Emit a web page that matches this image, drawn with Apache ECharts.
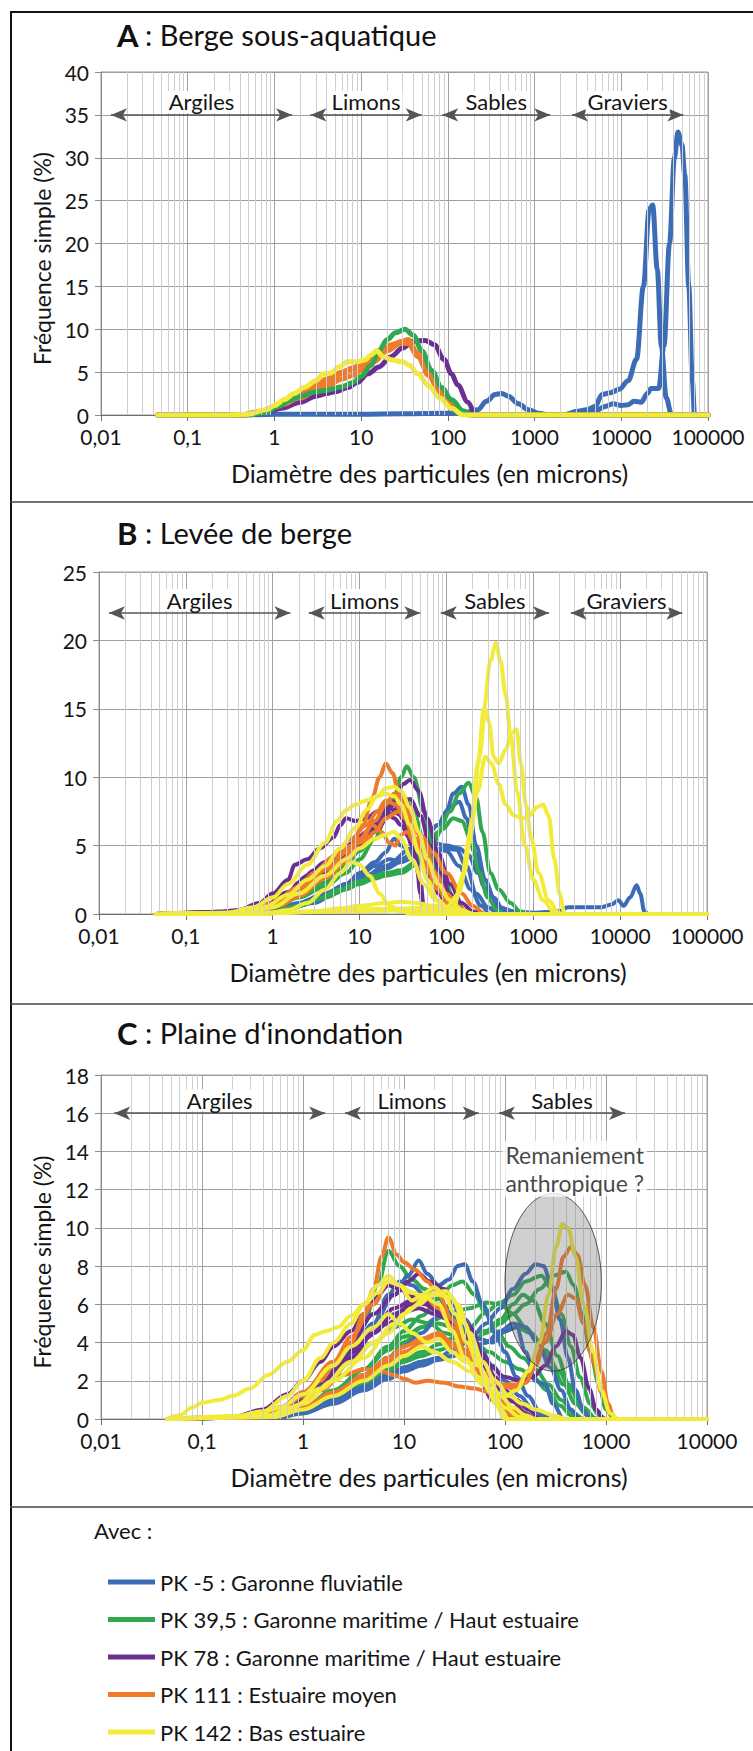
<!DOCTYPE html>
<html><head><meta charset="utf-8">
<script src="https://cdn.jsdelivr.net/npm/echarts@6/dist/echarts.min.js"></script>
<style>html,body{margin:0;padding:0;background:#fff}#c{width:753px;height:1751px}</style>
</head><body><div id="c"></div>
<script>
// ---------- DATA (diameter in microns, frequency in %) ----------
const seriesNames = ['PK -5 : Garonne fluviatile','PK 39,5 : Garonne maritime / Haut estuaire','PK 78 : Garonne maritime / Haut estuaire','PK 111 : Estuaire moyen','PK 142 : Bas estuaire'];
const colors = ['#3b6cb5','#2fa84f','#6b2f93','#ef7b2a','#f2eb3a'];
const zoneNames = ['Argiles','Limons','Sables','Graviers'];
const zoneBoundsAB = [[0.013,1.6],[2.6,50],[86,1520],[2700,52000]];
const zoneBoundsC = [[0.0135,1.66],[2.6,55],[87,1545]];
const xTicksAB = ['0,01','0,1','1','10','100','1000','10000','100000'];
const xTicksC = ['0,01','0,1','1','10','100','1000','10000'];

// Panel A
const A_PK5 = [
 [[0.6,0],[1,0.1],[3,0.1],[10,0.1],[30,0.15],[100,0.2],[160,0.3],[220,0.6],[280,1.6],[350,2.4],[420,2.5],[500,2.2],[650,1.3],[850,0.6],[1100,0.2],[1500,0],[2200,0],[3000,0.4],[4000,0.6],[5000,1.0],[6000,2.4],[7500,2.6],[9500,3.0],[12000,4.0],[15000,6.5],[18000,15],[21000,24],[23000,24.5],[26000,17],[29000,8],[33000,2],[38000,0],[100000,0]],
 [[1000,0],[2000,0],[3000,0.2],[5000,0.5],[6500,1.0],[8000,1.3],[10000,1.1],[12000,1.2],[14000,1.6],[17000,1.5],[20000,2.5],[22000,3.1],[27000,3.1],[31000,8],[36000,20],[41000,30],[45000,33],[50000,31.5],[54000,28],[60000,15],[66000,4],[70000,0],[100000,0]]
];
const A_PK395 = [
 [[0.045,0],[0.5,0],[0.8,0.3],[1.1,1.0],[1.5,1.7],[2,2.2],[3,2.7],[4,2.9],[6,3.3],[8,3.8],[10,4.5],[13,5.8],[16,7.5],[20,8.8],[25,9.6],[32,10],[40,9.3],[50,7.5],[65,5.2],[85,3.2],[110,1.8],[150,0.5],[190,0],[100000,0]]
];
const A_PK78 = [
 [[0.045,0],[0.5,0],[0.8,0.3],[1.2,0.8],[2,1.5],[3,2.2],[4,2.5],[5,2.7],[7,3.2],[9,3.8],[12,4.8],[16,5.6],[22,6.8],[30,7.8],[40,8.6],[55,8.7],[70,8.2],[90,6.5],[110,4.8],[130,3.5],[170,1.5],[210,0],[100000,0]]
];
const A_PK111 = [
 [[0.045,0],[0.4,0],[0.7,0.4],[1,1.0],[1.5,1.8],[2,2.4],[3,3.2],[4,3.9],[6,4.8],[8,5.3],[10,5.8],[13,6.5],[17,7.3],[22,8.2],[30,8.6],[35,8.8],[45,7],[60,5],[80,3],[110,1.3],[150,0.2],[180,0],[100000,0]],
 [[0.045,0],[0.5,0],[0.8,0.5],[1.2,1.2],[2,2],[3,2.8],[4,3.4],[6,4.2],[8,4.6],[10,5.2],[14,6.2],[20,7.5],[28,8.3],[35,8.5],[45,7.2],[60,5],[80,3],[110,1.2],[150,0.2],[180,0],[100000,0]],
 [[0.045,0],[0.45,0],[0.75,0.5],[1.1,1.1],[2,2.6],[3,3.5],[4,4.2],[6,5],[8,5.5],[10,6],[14,6.8],[20,7.8],[28,8.4],[35,8.3],[45,6.8],[60,4.6],[80,2.6],[110,1],[150,0.1],[180,0],[100000,0]]
];
const A_PK142 = [
 [[0.045,0],[0.3,0],[0.5,0.1],[0.8,0.6],[1,1.1],[1.3,1.8],[1.7,2.5],[2.2,3.2],[3,4],[3.7,4.8],[4.5,4.9],[5.5,5.6],[7,6.2],[9,6.2],[11,6.4],[13,7.0],[15,7.5],[18,6.8],[23,6.4],[30,6.2],[36,5.8],[45,4.8],[60,3.4],[80,2],[110,0.8],[150,0],[100000,0]]
];

// Panel B
const B_PK5 = [
 [[0.045,0],[0.5,0],[1,0.3],[2,0.8],[4,1.5],[7,2.2],[10,2.6],[15,3],[20,3.3],[30,3.8],[45,4.5],[60,5.8],[80,6.5],[100,7.5],[120,8.8],[150,9.3],[180,8],[220,5],[280,2.5],[350,1.2],[450,0.3],[600,0],[100000,0]],
 [[0.045,0],[1,0.2],[5,1.5],[10,2.5],[20,3.5],[40,4.8],[70,5.2],[100,5],[140,4.8],[180,4.3],[230,3],[300,1.5],[400,0.5],[600,0.2],[1000,0.1],[2000,0.2],[2500,0.5],[4000,0.5],[6000,0.5],[8000,0.7],[9500,1.0],[11000,0.6],[13000,1.2],[15500,2.1],[17000,1.5],[19000,0.2],[21000,0],[100000,0]],
 [[0.045,0],[0.6,0],[1,0.2],[2,0.6],[4,1.3],[7,2.2],[10,3],[15,3.8],[20,4.5],[25,5.5],[30,5],[40,4.5],[60,4.6],[90,4.8],[130,4.7],[170,3.5],[220,1.5],[300,0.5],[400,0],[100000,0]],
 [[0.045,0],[0.7,0],[1.5,0.4],[3,1],[6,1.8],[10,2.5],[20,3.5],[30,4],[50,5],[80,6.5],[110,7.8],[140,8.2],[170,7],[210,4.5],[270,2],[350,0.8],[450,0.2],[550,0],[100000,0]],
 [[0.045,0],[1,0.1],[3,0.8],[6,1.8],[10,2.8],[15,3.5],[22,4],[30,3.8],[45,4.2],[70,4.8],[100,4.6],[140,3.5],[190,1.8],[250,0.6],[320,0],[100000,0]]
];
const B_PK395 = [
 [[0.045,0],[0.5,0],[1,0.5],[2,1.2],[4,2],[7,3],[10,4],[15,5.5],[20,7],[25,8.5],[30,10],[35,10.8],[42,10],[55,7.5],[70,5],[90,3],[120,1.2],[160,0.3],[200,0],[100000,0]],
 [[0.045,0],[0.8,0],[1.5,0.3],[3,1],[6,1.8],[10,2.4],[15,2.8],[20,3],[30,3.2],[45,3.8],[60,4.8],[80,6],[110,7.5],[140,8.8],[180,9.6],[220,8.5],[260,6],[320,3],[400,1.8],[550,0.8],[700,0.2],[900,0],[100000,0]],
 [[0.045,0],[1,0.2],[2,0.6],[4,1.2],[7,1.8],[10,2.2],[15,2.6],[20,2.8],[30,3],[45,3.6],[65,4.8],[90,6.2],[120,7],[150,6.8],[190,5.5],[240,3],[300,1.2],[380,0.3],[450,0],[100000,0]],
 [[0.045,0],[0.6,0],[1.2,0.6],[2,1.3],[4,2.3],[7,3.6],[10,4.6],[15,6],[20,7.5],[25,8.4],[32,8.6],[40,7.8],[55,5.5],[75,3.3],[100,1.6],[140,0.4],[180,0],[100000,0]]
];
const B_PK78 = [
 [[0.045,0],[0.3,0.05],[0.5,0.2],[1,0.8],[1.5,1.5],[2,2.3],[3,3.2],[5,4],[8,5],[12,6],[18,7],[25,8.2],[32,9.5],[38,9.8],[48,9],[60,7],[80,4.5],[110,2.2],[150,0.8],[200,0.2],[260,0],[100000,0]],
 [[0.045,0],[0.2,0.05],[0.4,0.3],[0.7,0.8],[1,1.5],[1.5,2.5],[1.8,3.6],[2.5,4],[3.5,4.8],[5,5.6],[6,6.5],[7,7],[9,6.8],[12,7],[16,7.5],[20,7.8],[26,8],[32,7],[40,5],[50,2.5],[55,0.5],[60,0],[100000,0]],
 [[0.045,0],[0.4,0.1],[0.8,0.6],[1.5,1.6],[2.5,2.8],[4,3.8],[6,4.6],[9,5.3],[13,6],[18,7],[22,7.8],[28,7.3],[35,6.5],[45,5],[60,3],[80,1.5],[110,0.4],[150,0],[100000,0]],
 [[0.045,0],[0.5,0.2],[1,0.8],[2,2],[3,2.8],[5,3.6],[8,4.5],[12,5.5],[16,6.5],[20,7.5],[25,7],[30,6.5],[38,5.5],[45,4],[50,1.5],[55,0],[100000,0]],
 [[0.045,0],[0.5,0.1],[1,0.6],[2,1.6],[4,3],[6,3.8],[10,4.8],[15,6],[22,7.2],[30,8],[38,8.4],[50,7.2],[65,5],[85,3],[110,1.5],[140,0.5],[180,0],[100000,0]]
];
const B_PK111 = [
 [[0.045,0],[0.5,0.1],[1,0.7],[2,1.8],[3,2.8],[5,3.8],[8,5],[11,6.5],[14,8.5],[17,10],[20,11],[24,10.3],[28,9],[35,7.2],[45,5.5],[60,3.5],[80,2],[110,0.8],[150,0.2],[200,0],[100000,0]],
 [[0.045,0],[0.6,0.1],[1,0.5],[2,1.5],[4,2.8],[6,3.8],[10,5.2],[15,6.8],[20,8],[25,8.8],[30,8.5],[40,7],[55,5],[75,3],[100,1.5],[140,0.5],[180,0],[100000,0]],
 [[0.045,0],[0.6,0.1],[1,0.6],[2,1.7],[4,3.2],[7,4.5],[10,5.5],[14,6.5],[18,6],[22,5.2],[26,5],[30,5.8],[35,6],[45,5],[60,3.2],[80,1.8],[110,0.6],[150,0],[100000,0]],
 [[0.045,0],[0.5,0.1],[1,0.8],[2,2],[3,3],[5,4.2],[8,5.5],[12,6.5],[16,7.5],[20,8.3],[26,8],[33,7],[42,5.5],[55,4],[75,2.3],[100,1.2],[150,0.3],[200,0],[100000,0]],
 [[0.045,0],[0.7,0.1],[1.2,0.6],[2,1.3],[4,2.6],[7,3.8],[10,4.8],[15,6],[20,7],[28,7.5],[35,7],[50,5.8],[70,4.5],[100,3],[150,1.5],[200,0.6],[280,0],[100000,0]]
];
const B_PK142 = [
 [[0.045,0],[1,0.1],[10,0.2],[50,0.3],[100,0.2],[120,0.5],[150,2.5],[190,6],[230,11],[270,15],[320,18.5],[370,19.8],[420,18.5],[480,16],[550,13],[650,9],[800,5],[1000,2.5],[1300,1],[1700,0.2],[2200,0],[100000,0]],
 [[0.045,0],[1,0.1],[20,0.3],[80,0.3],[120,0.5],[160,3],[200,7],[240,11.5],[280,15],[310,14],[350,11.5],[400,11],[480,12],[560,13.2],[640,13.5],[720,11],[820,8],[950,5.5],[1150,3],[1500,1],[2000,0],[100000,0]],
 [[0.045,0],[1,0.1],[30,0.4],[100,0.5],[140,1.5],[180,5],[230,9],[280,11.5],[330,11],[400,9.5],[480,8],[600,7.2],[750,7],[900,7.2],[1100,7.8],[1300,8],[1500,7.2],[1750,4],[2000,1.5],[2300,0],[100000,0]],
 [[0.045,0],[0.4,0.1],[0.8,0.5],[1.5,1.4],[2.5,2.5],[4,3.5],[6,4.8],[9,6.3],[12,7.6],[16,8.6],[20,9.2],[25,9.3],[30,9],[38,7.8],[48,6],[60,4],[80,2.2],[110,1],[150,0.3],[200,0],[100000,0]],
 [[0.045,0],[0.3,0.1],[0.6,0.5],[1,1.2],[1.5,2.2],[2.5,3.6],[4,5.2],[5.5,6.8],[7,7.6],[9,8],[12,8.3],[16,8.6],[20,8.8],[25,8.6],[30,8],[38,6.5],[48,4.5],[60,2.5],[80,1],[110,0.3],[150,0],[100000,0]],
 [[0.045,0],[0.8,0],[1.5,0.3],[2.5,0.8],[4,1.8],[6,3],[8,3.8],[10,3.6],[13,2.8],[17,1.5],[22,0.6],[30,0.2],[40,0],[100000,0]],
 [[0.045,0],[1,0.05],[3,0.2],[6,0.4],[10,0.6],[20,0.8],[30,0.9],[45,0.8],[70,0.6],[100,0.5],[150,0.3],[200,0],[100000,0]],
 [[0.045,0],[0.5,0.1],[1,0.5],[2,1.5],[4,2.8],[7,4],[10,4.8],[15,5.5],[20,5.8],[25,6],[30,5.5],[40,4],[55,2.2],[75,1],[100,0.3],[130,0],[100000,0]]
];

// Panel C
const C_PK5 = [
 [[0.045,0],[0.6,0.1],[1,0.4],[2,1],[4,1.7],[7,2.3],[10,2.7],[15,3],[22,3.2],[30,3.6],[45,4.2],[65,5],[90,5.8],[120,6.8],[160,7.6],[200,8.1],[240,8],[290,7],[350,5.2],[420,3.2],[500,1.5],[600,0.4],[700,0],[10000,0]],
 [[0.045,0],[0.4,0.1],[0.8,0.7],[1.5,1.8],[3,3.5],[5,5],[8,6.5],[11,7.5],[14,8.3],[17,7.6],[22,7],[28,7.3],[34,8],[40,8.1],[48,7.2],[60,6],[80,4.5],[100,3.5],[130,2.2],[170,1.2],[220,0.4],[280,0],[10000,0]],
 [[0.045,0],[0.5,0.1],[1,0.5],[2,1.3],[4,2.3],[7,3.2],[10,3.8],[15,4.5],[22,5.4],[30,6],[40,5.2],[55,4.2],[75,4],[100,4.6],[130,4.8],[160,3.5],[200,2],[250,1.8],[300,0.8],[380,0],[10000,0]],
 [[0.045,0],[0.6,0.1],[1,0.3],[2,0.8],[4,1.5],[7,2.1],[10,2.5],[15,2.8],[22,3.1],[30,3.3],[45,3.6],[65,4],[90,4.6],[120,5],[160,4.8],[210,4],[280,2.7],[360,1.5],[450,0.5],[550,0],[10000,0]],
 [[0.045,0],[0.4,0.1],[0.8,0.6],[1.5,1.7],[3,3.4],[5,5],[7,6.5],[9,7.2],[12,7],[16,6.5],[22,6],[30,5.5],[40,4.8],[55,3.8],[75,2.8],[100,2],[140,1.2],[190,0.5],[250,0],[10000,0]]
];
const C_PK395 = [
 [[0.045,0],[0.3,0.1],[0.6,0.5],[1,1.1],[2,2.6],[3,3.8],[4,5],[5.5,7],[7,8.8],[9,8],[12,7.3],[16,6.8],[22,6.3],[30,5.4],[40,4.3],[55,3],[75,1.8],[100,0.8],[140,0.2],[180,0],[10000,0]],
 [[0.045,0],[0.6,0.1],[1,0.4],[2,1],[4,1.8],[7,2.5],[10,3],[15,3.3],[22,3.6],[30,3.8],[45,4],[65,4.5],[90,5],[120,5.5],[160,6],[220,6.8],[300,7.5],[400,7.7],[480,7],[580,5.5],[700,3.5],[850,1.8],[1000,0.5],[1200,0],[10000,0]],
 [[0.045,0],[0.6,0.1],[1,0.4],[2,1.1],[4,1.9],[7,2.6],[10,3.1],[15,3.5],[22,3.9],[30,4.2],[45,4.8],[65,5.6],[90,6.1],[120,6.5],[160,7.2],[230,7.5],[290,6.8],[360,5.5],[450,3.8],[550,2.2],[700,0.8],[850,0.2],[1000,0],[10000,0]],
 [[0.045,0],[0.6,0.1],[1,0.4],[2,1.2],[4,2.2],[7,3.2],[10,4],[15,4.8],[20,5.2],[30,5.6],[45,5.8],[65,6.1],[90,6],[120,5.5],[160,4.8],[210,4],[280,3],[380,1.8],[500,0.8],[650,0.2],[800,0],[10000,0]],
 [[0.045,0],[0.6,0.1],[1,0.3],[2,0.9],[4,1.6],[7,2.3],[10,2.7],[15,3],[22,3.1],[30,3.3],[45,3.6],[65,4],[90,4.5],[130,4.8],[180,4.5],[250,3.6],[340,2.5],[450,1.5],[600,0.6],[800,0],[10000,0]],
 [[0.045,0],[0.5,0.1],[1,0.6],[2,1.5],[4,2.6],[7,3.6],[10,4.3],[15,4.8],[22,5],[30,4.8],[45,4.5],[65,4.6],[90,5.2],[120,6],[150,6.5],[190,6.2],[250,5],[330,3.3],[430,1.8],[560,0.7],[700,0.1],[850,0],[10000,0]],
 [[0.045,0],[0.4,0.1],[0.8,0.6],[1.5,1.5],[3,3],[5,4],[8,4.8],[12,5.2],[18,5],[25,4.5],[35,4.3],[50,4],[70,3.5],[100,3],[140,2.6],[190,2.2],[260,1.5],[350,0.7],[450,0.2],[550,0],[10000,0]],
 [[0.045,0],[0.5,0.1],[1,0.5],[2,1.4],[4,2.6],[7,3.8],[10,4.6],[15,5.4],[22,6.3],[30,7],[38,7.2],[50,6.5],[65,5.5],[85,4.5],[110,3.8],[150,3.2],[200,2.6],[270,1.8],[360,1],[480,0.3],[600,0],[10000,0]]
];
const C_PK78 = [
 [[0.045,0],[0.3,0.1],[0.6,0.5],[1,1.2],[2,2.8],[3,4],[5,5.5],[8,6.5],[11,7.2],[14,7.6],[18,7.2],[25,6.8],[33,6],[45,4.8],[60,3.4],[80,2.2],[100,1.5],[130,1],[170,0.5],[220,0],[10000,0]],
 [[0.045,0],[0.4,0.1],[0.8,0.7],[1.5,1.9],[3,3.5],[5,4.8],[8,5.8],[12,6.2],[17,6],[25,5.5],[35,4.6],[50,3.6],[70,2.8],[100,2.2],[140,2],[190,2.2],[250,2.8],[320,3.8],[400,4.6],[470,4.4],[560,3.2],[680,1.6],[800,0.5],[950,0],[10000,0]],
 [[0.045,0],[0.2,0.1],[0.4,0.5],[0.7,1.3],[1,2],[1.5,3],[2,3.8],[3,4.6],[4,5.5],[5.5,6.5],[7,7],[9,6.8],[12,6.4],[16,6],[22,5.6],[30,5],[40,4.2],[55,3],[75,1.8],[100,0.9],[130,0.3],[170,0],[10000,0]],
 [[0.045,0],[0.3,0.1],[0.6,0.6],[1,1.4],[2,2.8],[4,4.2],[7,5],[10,5.6],[14,5.8],[20,5.5],[28,5.2],[38,4.5],[50,3.5],[70,2.4],[90,1.6],[120,0.9],[160,0.3],[200,0],[10000,0]],
 [[0.045,0],[0.4,0.1],[0.8,0.6],[1.5,1.6],[3,3.2],[5,4.5],[8,5.5],[12,6],[16,6.2],[22,5.8],[30,4.8],[40,3.6],[55,2.2],[75,1],[100,0.3],[130,0],[10000,0]]
];
const C_PK111 = [
 [[0.045,0],[0.3,0.1],[0.6,0.5],[1,1.2],[1.5,2],[2,2.8],[3,4],[4,5.5],[5,6.8],[6,8.5],[7,9.5],[8.5,8.6],[10,8.2],[13,7.8],[17,7.2],[22,6.5],[30,5.2],[40,4],[55,2.5],[75,1.2],[100,0.4],[130,0],[10000,0]],
 [[0.045,0],[0.5,0.1],[1,0.6],[2,1.4],[4,2.2],[7,3],[10,3.5],[15,4],[22,4.3],[30,3.8],[45,3],[65,2.2],[90,1.8],[120,1.6],[160,1.9],[200,2.8],[260,4.5],[320,6.8],[380,8.5],[450,9],[520,8.6],[620,7],[750,4.8],[900,2.5],[1050,0.8],[1200,0],[10000,0]],
 [[0.045,0],[0.5,0.1],[1,0.5],[2,1.3],[4,2.3],[7,3.2],[10,3.8],[15,4.2],[22,4.5],[30,4],[45,3.3],[65,2.4],[90,1.8],[130,1.8],[180,2.6],[250,4],[330,5.5],[420,6.5],[500,6.3],[600,5],[750,3],[900,1.4],[1100,0.3],[1300,0],[10000,0]],
 [[0.045,0],[0.4,0.1],[0.8,0.6],[1.5,1.5],[2.5,2.3],[4,2.6],[6,2.5],[8,2.3],[10,2.1],[13,1.9],[17,2],[25,1.9],[35,1.7],[50,1.6],[70,1.4],[90,1.1],[110,0.6],[140,0.2],[170,0],[10000,0]],
 [[0.045,0],[0.3,0.1],[0.6,0.6],[1,1.4],[2,3],[3,4.3],[5,6],[7,7.2],[9,7],[12,6.6],[16,6.4],[22,5.8],[30,4.8],[40,3.6],[55,2.4],[75,1.4],[100,0.7],[140,0.2],[180,0],[10000,0]]
];
const C_PK142 = [
 [[0.045,0],[0.06,0.2],[0.08,0.6],[0.1,0.85],[0.15,1],[0.2,1.2],[0.3,1.6],[0.45,2.3],[0.7,3],[1,3.6],[1.3,4.4],[1.7,4.6],[2.2,4.8],[3,5.4],[4,6],[5.5,6.6],[7,7.2],[9,7],[12,6.6],[16,6.4],[22,6.5],[30,6.3],[40,5],[50,3.5],[65,2],[80,0.8],[100,0],[10000,0]],
 [[0.045,0],[0.5,0.1],[1,0.5],[2,1.2],[4,2],[7,2.8],[10,3.3],[15,3.8],[20,3.5],[30,3],[45,2.5],[60,1.8],[80,1.4],[100,1.2],[130,1.5],[170,2.5],[220,4],[270,6.5],[320,9],[370,10.2],[420,10],[500,8.5],[600,6],[750,3.5],[900,1.5],[1100,0.3],[1300,0],[10000,0]],
 [[0.045,0],[0.2,0.1],[0.4,0.4],[0.7,1.2],[1,2],[1.5,3.2],[2,4],[3,5],[4,6],[5.5,7],[7,7.5],[9,7],[12,6.2],[15,6.5],[20,6.9],[25,6.5],[32,5.5],[42,4],[55,2.8],[70,1.5],[90,0.5],[110,0],[10000,0]],
 [[0.045,0],[0.3,0.1],[0.6,0.6],[1,1.3],[2,2.8],[3,3.8],[5,4.8],[7,5.5],[9,5],[12,4.5],[17,4],[22,4.2],[30,3.5],[40,3],[55,2.8],[70,2],[90,1.2],[120,0.6],[160,0.2],[200,0],[10000,0]],
 [[0.045,0],[0.5,0.2],[1,0.8],[2,2],[4,3.2],[7,4.5],[10,5.5],[14,6],[20,6.6],[26,6.7],[34,6],[45,4.5],[60,3],[80,2],[110,1.2],[150,0.8],[200,0.5],[300,0.2],[400,0],[10000,0]],
 [[0.045,0],[0.4,0.1],[0.8,0.6],[1.5,1.6],[3,3],[5,4],[8,5],[12,5.8],[16,6.4],[22,6],[30,4.6],[40,3.2],[55,2.2],[75,1.3],[100,0.6],[140,0.1],[180,0],[10000,0]]
];
// Ellipse in C (x from, x to, y from, y to) and its caption position
const C_ellipse = [[100, 900, 2.5, 11.8]];
const C_note = [[490, 13.1]];

// ---------- CHART ----------
const FONT = 'Lato';
const chart = echarts.init(document.getElementById('c'), null, {renderer: 'svg'});

function minorPositions(nFrom, nTo) {
  const out = [];
  for (let n = nFrom; n <= nTo; n++) for (let k = 2; k <= 9; k++) out.push({xAxis: Number((k * Math.pow(10, n)).toPrecision(3))});
  return out;
}
function fmtTick(v) { return (v < 1 ? String(v) : String(Math.round(v))).replace('.', ','); }

const grids = [
  {left: 101, top: 72, width: 607, height: 343},
  {left: 99, top: 572, width: 608, height: 342},
  {left: 101, top: 1075, width: 606, height: 344}
];
grids.forEach(g => { g.show = true; g.borderColor = '#9c9c9c'; g.borderWidth = 1; g.backgroundColor = 'transparent'; });

function xAxisDef(i, max) {
  return {type: 'log', logBase: 10, min: 0.01, max: max, gridIndex: i, splitNumber: 7,
    name: 'Diamètre des particules (en microns)', nameLocation: 'middle', nameGap: 45,
    nameTextStyle: {fontFamily: FONT, fontSize: 25, color: '#151515', padding: [0, 0, 0, 50]},
    axisLine: {show: true, lineStyle: {color: '#6e6e6e', width: 1}},
    axisTick: {show: true, length: 6, lineStyle: {color: '#6e6e6e'}},
    axisLabel: {fontFamily: FONT, fontSize: 21, color: '#151515', margin: 11, formatter: fmtTick},
    splitLine: {show: true, lineStyle: {color: '#a0a0a0', width: 1}}};
}
function yAxisDef(i, max, interval, name) {
  return {type: 'value', min: 0, max: max, interval: interval, gridIndex: i,
    name: name || '', nameLocation: 'middle', nameGap: 41,
    nameTextStyle: {fontFamily: FONT, fontSize: 23, color: '#151515', padding: [0, 30, 0, 0]},
    axisLine: {show: true, lineStyle: {color: '#8a8a8a', width: 1}},
    axisTick: {show: true, length: 6, lineStyle: {color: '#8a8a8a'}},
    axisLabel: {fontFamily: FONT, fontSize: 21, color: '#151515', margin: 12},
    splitLine: {show: true, lineStyle: {color: '#a0a0a0', width: 1}}};
}

function curveSeries(list, colorIdx, gi, width) {
  return list.map(d => ({type: 'line', name: seriesNames[colorIdx], data: d, xAxisIndex: gi, yAxisIndex: gi,
    symbol: 'none', showSymbol: false, smooth: 0.35, smoothMonotone: 'x', silent: true, z: 3,
    lineStyle: {color: colors[colorIdx], width: width, cap: 'round', join: 'round'},
    itemStyle: {color: colors[colorIdx]}}));
}
function minorSeries(gi, nTo) {
  return {type: 'line', data: [], xAxisIndex: gi, yAxisIndex: gi, silent: true, z: 1,
    markLine: {silent: true, symbol: 'none', animation: false, label: {show: false},
      lineStyle: {color: '#cfcfcf', width: 1, type: 'solid'}, data: minorPositions(-2, nTo)}};
}
function zoneSeries(gi, bounds, yv) {
  return {type: 'line', data: [], xAxisIndex: gi, yAxisIndex: gi, silent: true, z: 6,
    markLine: {silent: true, animation: false, symbol: ['arrow', 'arrow'], symbolSize: [10, 16],
      lineStyle: {color: '#555', width: 1.5, type: 'solid'},
      label: {show: true, position: 'middle', distance: 2, fontFamily: FONT, fontSize: 22, color: '#151515',
        backgroundColor: '#fff', padding: [0, 2], formatter: p => p.name},
      data: bounds.map((b, k) => [{name: zoneNames[k], coord: [b[0], yv]}, {coord: [b[1], yv]}])}};
}

const WA = 5, WB = 4, WC = 4;
const series = [].concat(
  [minorSeries(0, 4), minorSeries(1, 4), minorSeries(2, 3)],
  curveSeries(A_PK5, 0, 0, WA), curveSeries(A_PK78, 2, 0, WA), curveSeries(A_PK111, 3, 0, WA),
  curveSeries(A_PK395, 1, 0, WA), curveSeries(A_PK142, 4, 0, WA),
  curveSeries(B_PK5, 0, 1, WB), curveSeries(B_PK395, 1, 1, WB), curveSeries(B_PK78, 2, 1, WB),
  curveSeries(B_PK111, 3, 1, WB), curveSeries(B_PK142, 4, 1, WB),
  curveSeries(C_PK395, 1, 2, WC), curveSeries(C_PK5, 0, 2, WC), curveSeries(C_PK78, 2, 2, WC),
  curveSeries(C_PK111, 3, 2, WC), curveSeries(C_PK142, 4, 2, WC),
  [zoneSeries(0, zoneBoundsAB, 35), zoneSeries(1, zoneBoundsAB, 22), zoneSeries(2, zoneBoundsC, 16),
   {type: 'custom', xAxisIndex: 2, yAxisIndex: 2, data: C_ellipse, silent: true, z: 8,
    encode: {x: [0, 1], y: [2, 3]},
    renderItem: function (params, api) {
      const p1 = api.coord([api.value(0), api.value(3)]);
      const p2 = api.coord([api.value(1), api.value(2)]);
      return {type: 'ellipse', shape: {cx: (p1[0] + p2[0]) / 2, cy: (p1[1] + p2[1]) / 2,
        rx: Math.abs(p2[0] - p1[0]) / 2, ry: Math.abs(p2[1] - p1[1]) / 2},
        style: {fill: 'rgba(110,110,110,0.33)', stroke: '#333', lineWidth: 0.8}};
    }},
   {type: 'scatter', xAxisIndex: 2, yAxisIndex: 2, data: C_note, symbolSize: 0, silent: true, z: 9,
    label: {show: true, position: 'inside', formatter: 'Remaniement\nanthropique ?', fontFamily: FONT,
      fontSize: 23, lineHeight: 28, color: '#151515', backgroundColor: '#fff', padding: [0, 3]}}]
);

function titleTexts(letter, rest, top) {
  return [
    {type: 'text', left: 117, top: top - 1, z: 10,
     style: {text: letter, fontFamily: FONT, fontSize: 31, fontWeight: 'bold', fill: '#111'}},
    {type: 'text', left: 145, top: top, z: 10,
     style: {text: rest, fontFamily: FONT, fontSize: 29, fill: '#111'}}
  ];
}
function hline(y, w, c) { return {type: 'line', shape: {x1: 10, y1: y, x2: 753, y2: y}, style: {stroke: c, lineWidth: w}, z: 10}; }

chart.setOption({
  animation: false,
  backgroundColor: '#fff',
  textStyle: {fontFamily: FONT},
  grid: grids,
  xAxis: [xAxisDef(0, 100000), xAxisDef(1, 100000), Object.assign(xAxisDef(2, 10000), {splitNumber: 6})],
  yAxis: [yAxisDef(0, 40, 5, 'Fréquence simple (%)'), yAxisDef(1, 25, 5), yAxisDef(2, 18, 2, 'Fréquence simple (%)')],
  legend: {show: true, orient: 'vertical', left: 103, top: 1565, icon: 'rect', itemWidth: 47, itemHeight: 5,
    itemGap: 13.5, selectedMode: false, data: seriesNames,
    textStyle: {fontFamily: FONT, fontSize: 22, lineHeight: 24, color: '#151515'}},
  graphic: [
    {type: 'line', shape: {x1: 11, y1: 11, x2: 11, y2: 1751}, style: {stroke: '#111', lineWidth: 2}, z: 10},
    hline(12, 2, '#111'), hline(502, 1.5, '#444'), hline(1004, 1.5, '#444'), hline(1507, 1.5, '#444')
  ].concat(
    titleTexts('A', ': Berge sous-aquatique', 20),
    titleTexts('B', ': Levée de berge', 518),
    titleTexts('C', ': Plaine d\u2018inondation', 1018),
    [{type: 'text', left: 94, top: 1519, z: 10, style: {text: 'Avec :', fontFamily: FONT, fontSize: 22, fill: '#151515'}}]
  ),
  series: series
});
</script></body></html>
